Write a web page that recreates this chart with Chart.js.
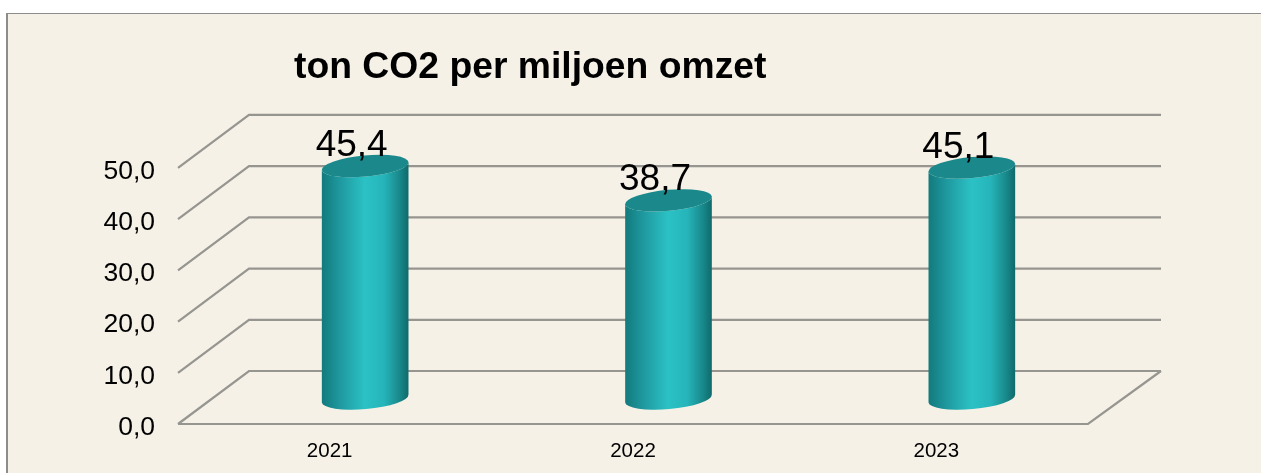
<!DOCTYPE html>
<html>
<head>
<meta charset="utf-8">
<title>ton CO2 per miljoen omzet</title>
<script src="https://cdn.jsdelivr.net/npm/chart.js@4/dist/chart.umd.min.js"></script>
<style>
    html, body { margin: 0; padding: 0; background: #fff; overflow: hidden; }
    #panel {
        position: absolute; left: 6px; top: 13px; right: 0; bottom: 0;
        background: #f5f1e7;
        border-top: 1px solid #8c8c8c;
        border-left: 2px solid #8c8c8c;
    }
    #co2Chart { position: absolute; left: 0; top: 0; }
</style>
</head>
<body>
<div id="panel"></div>
<canvas id="co2Chart" width="1261" height="473"></canvas>
<script>
const chartTitle = "ton CO2 per miljoen omzet";
const years = ["2021", "2022", "2023"];
const co2Values = [45.4, 38.7, 45.1];
const yMax = 50;
const yStep = 10;

// depth of the fake 3D floor
const DEPTH_X = 71;
const DEPTH_Y = 53;
const GRID_COLOR = "#969590";

const formatNl = v => v.toFixed(1).replace(".", ",");

function drawCylinder(ctx, bar) {
    const cx = bar.x + DEPTH_X / 2;
    const rx = bar.width / 2;
    const ry = 10.5;
    const tilt = -0.09;
    const topY = bar.y - DEPTH_Y / 2 + 1;
    const baseY = bar.base - DEPTH_Y / 2 + 1;

    const grad = ctx.createLinearGradient(cx - rx, 0, cx + rx, 0);
    grad.addColorStop(0, "#127a7c");
    grad.addColorStop(0.22, "#1f9aa1");
    grad.addColorStop(0.5, "#2bc2c5");
    grad.addColorStop(0.72, "#25b4b9");
    grad.addColorStop(0.9, "#188789");
    grad.addColorStop(1, "#0f696b");

    // side wall: lower half of bottom ellipse up to the top ellipse
    ctx.beginPath();
    ctx.ellipse(cx, baseY, rx, ry, tilt, 0, Math.PI);
    ctx.ellipse(cx, topY, rx, ry, tilt, Math.PI, 0, true);
    ctx.closePath();
    ctx.fillStyle = grad;
    ctx.fill();

    ctx.beginPath();
    ctx.ellipse(cx, topY, rx, ry, tilt, 0, Math.PI * 2);
    ctx.fillStyle = "#1b898b";
    ctx.fill();
}

const depthPlugin = {
    id: "depth3d",
    afterLayout(chart) {
        chart.titleBlock.left = 294;
    },
    beforeDatasetsDraw(chart) {
        const { ctx, chartArea, scales } = chart;
        ctx.save();
        ctx.strokeStyle = GRID_COLOR;
        ctx.lineWidth = 2.2;
        ctx.beginPath();
        scales.y.ticks.forEach(t => {
            const y = scales.y.getPixelForValue(t.value);
            ctx.moveTo(chartArea.left, y);
            ctx.lineTo(chartArea.left + DEPTH_X, y - DEPTH_Y);
            ctx.lineTo(chartArea.right + DEPTH_X + 2, y - DEPTH_Y);
        });
        // floor front edge and right side
        const y0 = scales.y.getPixelForValue(0);
        ctx.moveTo(chartArea.left, y0);
        ctx.lineTo(chartArea.right, y0);
        ctx.lineTo(chartArea.right + DEPTH_X + 2, y0 - DEPTH_Y);
        ctx.stroke();
        ctx.restore();
    },
    afterDatasetsDraw(chart) {
        const { ctx } = chart;
        const bars = chart.getDatasetMeta(0).data;
        ctx.save();
        bars.forEach(bar => drawCylinder(ctx, bar));
        ctx.fillStyle = "#000";
        ctx.font = "37px 'Liberation Sans'";
        ctx.textAlign = "center";
        ctx.textBaseline = "alphabetic";
        bars.forEach((bar, i) => {
            const x = bar.x + DEPTH_X / 2 - 13.5;
            const y = bar.y - DEPTH_Y / 2 - 9;
            ctx.fillText(formatNl(co2Values[i]), x, y);
        });
        ctx.restore();
    }
};

new Chart(document.getElementById("co2Chart"), {
    type: "bar",
    data: {
        labels: years,
        datasets: [{
            label: chartTitle,
            data: co2Values,
            backgroundColor: "rgba(0,0,0,0)",
            barThickness: 87
        }]
    },
    options: {
        responsive: false,
        animation: false,
        layout: { padding: { left: 0, right: 173, top: 0, bottom: 0 } },
        plugins: {
            legend: { display: false },
            tooltip: { enabled: false },
            title: {
                display: true,
                text: chartTitle,
                align: "start",
                color: "#000",
                font: { family: "'Liberation Sans'", size: 37.3, weight: "bold", lineHeight: 1.2 },
                padding: { top: 45, bottom: 78.2 }
            }
        },
        scales: {
            x: {
                grid: { display: false },
                border: { display: false },
                afterFit: s => { s.height = 49; },
                ticks: {
                    color: "#000",
                    padding: 7,
                    font: { family: "'Liberation Sans'", size: 20.5 }
                }
            },
            y: {
                min: 0,
                max: yMax,
                grid: { display: false },
                border: { display: false },
                afterFit: s => { s.width = 178; },
                ticks: {
                    stepSize: yStep,
                    color: "#000",
                    padding: 15,
                    labelOffset: 3.5,
                    font: { family: "'Liberation Sans'", size: 26.5 },
                    callback: v => formatNl(v)
                }
            }
        }
    },
    plugins: [depthPlugin]
});
</script>
</body>
</html>
